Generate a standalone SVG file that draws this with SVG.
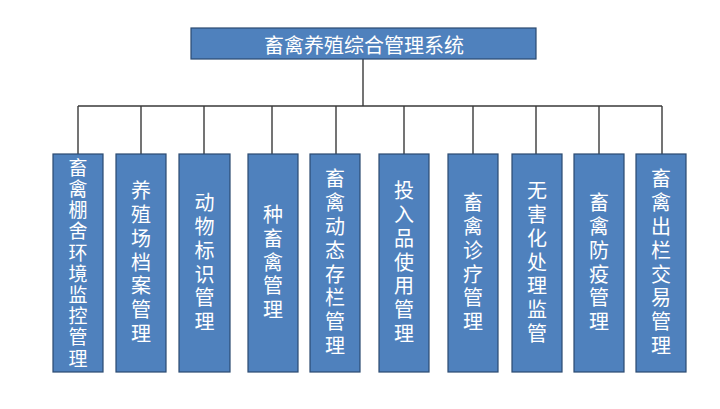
<svg xmlns="http://www.w3.org/2000/svg" width="720" height="409" viewBox="0 0 720 409">
<style>
.box{fill:#4F81BD;stroke:#2B4A70;stroke-width:1.2}
.t{fill:#FFFFFF;font-family:"Noto Sans CJK SC","Noto Sans",sans-serif;font-size:20px;text-anchor:middle;dominant-baseline:central}
.v{fill:#FFFFFF;font-family:"Noto Sans CJK SC","Noto Sans",sans-serif;font-size:20px;text-anchor:middle;writing-mode:vertical-rl;text-orientation:upright;letter-spacing:3.8px}
.v1{font-size:19px;letter-spacing:2.2px}
.ln{stroke:#3A3A3A;stroke-width:1.4;fill:none}
</style>
<rect width="720" height="409" fill="#FFFFFF"/>
<g id="connectors">
<path class="ln" d="M363 59V106M78 106H662M78 106V154M141 106V154M204 106V154M272 106V154M336 106V154M404 106V154M473 106V154M536 106V154M599 106V154M662 106V154"/>
</g>
<g id="root">
<rect class="box" x="191" y="28" width="345" height="31"/>
<text class="t" x="364" y="44">畜禽养殖综合管理系统</text>
</g>
<g id="n1">
<rect class="box" x="53" y="154" width="50" height="218"/>
<text class="v v1" x="78" y="264">畜禽棚舍环境监控管理</text>
</g>
<g id="n2">
<rect class="box" x="116" y="154" width="50" height="218"/>
<text class="v" x="141" y="264">养殖场档案管理</text>
</g>
<g id="n3">
<rect class="box" x="179" y="154" width="51" height="218"/>
<text class="v" x="204.5" y="264">动物标识管理</text>
</g>
<g id="n4">
<rect class="box" x="248" y="154" width="50" height="218"/>
<text class="v" x="273" y="264">种畜禽管理</text>
</g>
<g id="n5">
<rect class="box" x="310" y="154" width="50" height="218"/>
<text class="v" x="335" y="264">畜禽动态存栏管理</text>
</g>
<g id="n6">
<rect class="box" x="379" y="154" width="50" height="218"/>
<text class="v" x="404" y="264">投入品使用管理</text>
</g>
<g id="n7">
<rect class="box" x="448" y="154" width="50" height="218"/>
<text class="v" x="473" y="264">畜禽诊疗管理</text>
</g>
<g id="n8">
<rect class="box" x="512" y="154" width="50" height="218"/>
<text class="v" x="537" y="264">无害化处理监管</text>
</g>
<g id="n9">
<rect class="box" x="574" y="154" width="50" height="218"/>
<text class="v" x="599" y="264">畜禽防疫管理</text>
</g>
<g id="n10">
<rect class="box" x="636" y="154" width="50" height="218"/>
<text class="v" x="661" y="264">畜禽出栏交易管理</text>
</g>
</svg>
